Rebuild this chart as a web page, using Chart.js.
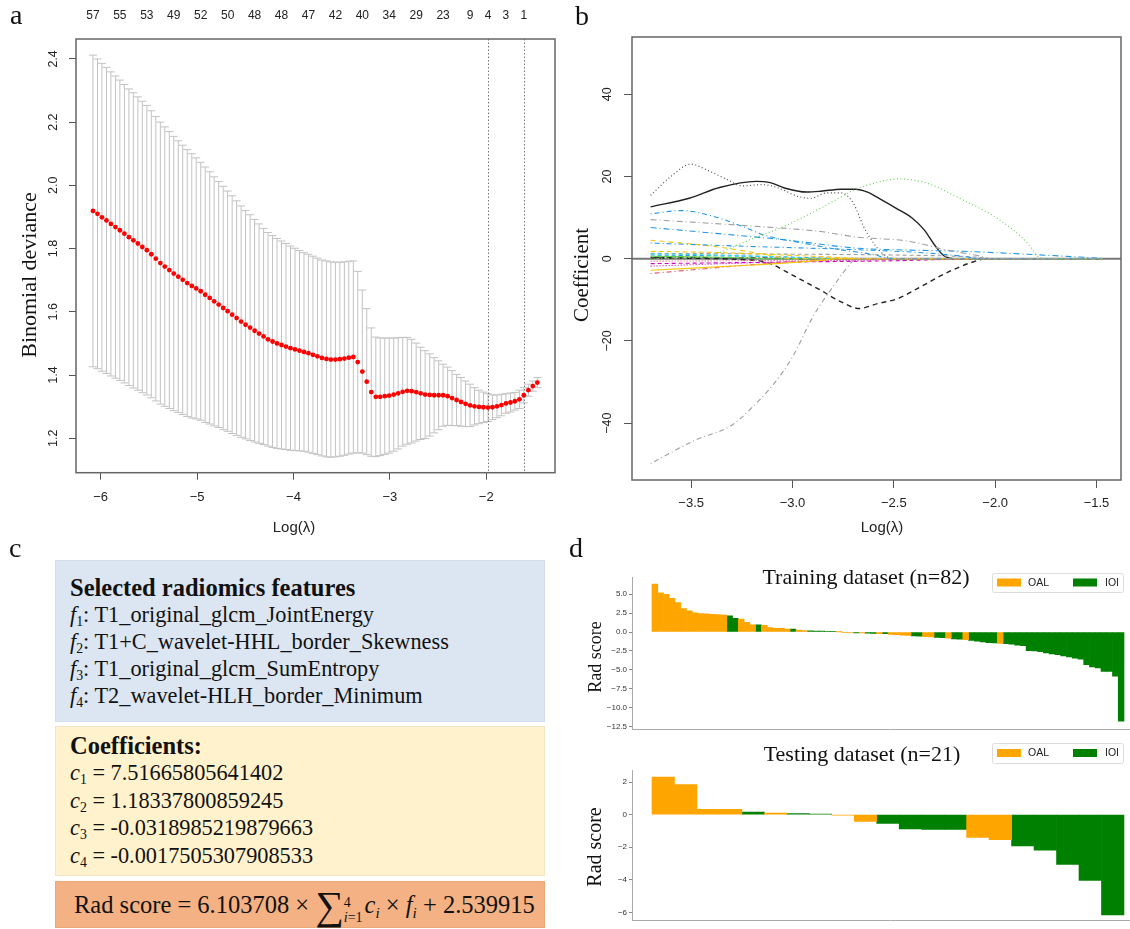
<!DOCTYPE html>
<html>
<head>
<meta charset="utf-8">
<script src="https://cdn.jsdelivr.net/npm/chart.js@4.4.1/dist/chart.umd.min.js"></script>
<style>
html, body { margin: 0; padding: 0; background: #fff; overflow: hidden; }
#page { position: relative; width: 1130px; height: 929px; overflow: hidden; }
canvas { position: absolute; }
.lab { position: absolute; font-family: "Liberation Serif", "Times New Roman", serif; font-size: 28px; line-height: 28px; color: #111; }
.pc { position: absolute; left: 55px; width: 490px; box-sizing: border-box; padding-left: 14px;
      font-family: "Liberation Serif", "Times New Roman", serif; color: #111; white-space: nowrap; }
#pc1 { top: 560px; height: 162px; background: #dce6f2; border: 1px solid #d3dded; padding-top: 12.5px; line-height: 27px; font-size: 22.3px; }
#pc2 { top: 726px; height: 150px; background: #fff2cc; border: 1px solid #f3e6c0; padding-top: 4.5px; line-height: 27.5px; font-size: 22.3px; }
#pc3 { top: 881px; height: 47px; background: #f4b183; border: 1px solid #eaa877; padding-left: 18px; line-height: 45px; font-size: 24.5px; }
.hd { font-weight: bold; font-size: 24.5px; }
sub { font-size: 0.62em; vertical-align: -0.3em; line-height: 0; }
.sig { font-size: 40px; vertical-align: -6px; line-height: 0; }
.lim { display: inline-block; vertical-align: -9px; line-height: 15px; font-size: 14px; text-align: left; margin-right: 2px; }
.lim span { display: block; }
</style>
</head>
<body>
<div id="page">
  <canvas id="cA" width="570" height="545" style="left:0;top:0"></canvas>
  <canvas id="cB" width="564" height="545" style="left:566px;top:0"></canvas>
  <canvas id="cTrain" width="566" height="180" style="left:582px;top:556px"></canvas>
  <canvas id="cTest" width="566" height="192" style="left:582px;top:735px"></canvas>

  <div class="lab" style="left:10px;top:1px">a</div>
  <div class="lab" style="left:575px;top:2px">b</div>
  <div class="lab" style="left:9px;top:534px">c</div>
  <div class="lab" style="left:569px;top:534px">d</div>

  <div class="pc" id="pc1">
    <div class="hd">Selected radiomics features</div>
    <div><i>f</i><sub>1</sub>: T1_original_glcm_JointEnergy</div>
    <div><i>f</i><sub>2</sub>: T1+C_wavelet-HHL_border_Skewness</div>
    <div><i>f</i><sub>3</sub>: T1_original_glcm_SumEntropy</div>
    <div><i>f</i><sub>4</sub>: T2_wavelet-HLH_border_Minimum</div>
  </div>
  <div class="pc" id="pc2">
    <div class="hd">Coefficients:</div>
    <div><i>c</i><sub>1</sub> = 7.51665805641402</div>
    <div><i>c</i><sub>2</sub> = 1.18337800859245</div>
    <div><i>c</i><sub>3</sub> = -0.0318985219879663</div>
    <div><i>c</i><sub>4</sub> = -0.0017505307908533</div>
  </div>
  <div class="pc" id="pc3">Rad score = 6.103708 × <span class="sig">∑</span><span class="lim"><span>4</span><span><i>i</i>=1</span></span><i>c</i><sub><i>i</i></sub> × <i>f</i><sub><i>i</i></sub> + 2.539915</div>
</div>

<script>
// ---------- panel a: cross-validation curve ----------
const logLambda = [-6.080,-6.033,-5.987,-5.940,-5.894,-5.847,-5.801,-5.754,-5.707,-5.661,
  -5.614,-5.568,-5.521,-5.475,-5.428,-5.381,-5.335,-5.288,-5.242,-5.195,
  -5.149,-5.102,-5.055,-5.009,-4.962,-4.916,-4.869,-4.823,-4.776,-4.729,
  -4.683,-4.636,-4.590,-4.543,-4.497,-4.450,-4.403,-4.357,-4.310,-4.264,
  -4.217,-4.171,-4.124,-4.078,-4.031,-3.984,-3.938,-3.891,-3.845,-3.798,
  -3.752,-3.705,-3.658,-3.612,-3.565,-3.519,-3.472,-3.426,-3.379,-3.333,
  -3.286,-3.240,-3.193,-3.146,-3.100,-3.053,-3.007,-2.960,-2.914,-2.867,
  -2.820,-2.774,-2.727,-2.681,-2.634,-2.587,-2.541,-2.494,-2.448,-2.401,
  -2.355,-2.308,-2.262,-2.215,-2.168,-2.122,-2.075,-2.029,-1.982,-1.936,
  -1.889,-1.843,-1.796,-1.749,-1.703,-1.656,-1.610,-1.563,-1.517,-1.470];
const cvMean = [1.919,1.910,1.899,1.889,1.878,1.868,1.858,1.847,1.836,1.826,
  1.816,1.805,1.795,1.782,1.768,1.754,1.743,1.732,1.721,1.711,
  1.701,1.691,1.682,1.674,1.665,1.654,1.644,1.633,1.623,1.612,
  1.602,1.591,1.580,1.569,1.559,1.550,1.540,1.531,1.522,1.513,
  1.506,1.500,1.495,1.490,1.485,1.481,1.477,1.473,1.469,1.464,
  1.459,1.454,1.451,1.449,1.449,1.450,1.452,1.455,1.457,1.441,
  1.411,1.379,1.346,1.331,1.331,1.333,1.335,1.338,1.342,1.347,
  1.350,1.349,1.346,1.342,1.338,1.337,1.336,1.336,1.336,1.333,
  1.327,1.321,1.315,1.309,1.304,1.301,1.299,1.298,1.297,1.298,
  1.301,1.305,1.310,1.313,1.317,1.323,1.336,1.352,1.365,1.376];
const cvSd = [0.493,0.490,0.487,0.484,0.481,0.478,0.475,0.472,0.469,0.467,
  0.464,0.461,0.458,0.454,0.450,0.446,0.442,0.438,0.434,0.430,
  0.426,0.422,0.418,0.413,0.408,0.404,0.399,0.394,0.389,0.385,
  0.380,0.376,0.371,0.366,0.361,0.357,0.352,0.347,0.342,0.338,
  0.335,0.332,0.329,0.326,0.323,0.320,0.317,0.314,0.313,0.312,
  0.311,0.310,0.310,0.309,0.308,0.307,0.306,0.305,0.304,0.287,
  0.258,0.231,0.203,0.189,0.186,0.184,0.182,0.179,0.176,0.172,
  0.169,0.164,0.155,0.146,0.139,0.130,0.119,0.109,0.098,0.092,
  0.087,0.081,0.077,0.072,0.067,0.059,0.053,0.048,0.044,0.039,
  0.036,0.034,0.031,0.030,0.028,0.029,0.024,0.019,0.016,0.016];
const topLambda = [-6.080,-5.801,-5.521,-5.242,-4.962,-4.683,-4.403,-4.124,-3.845,
  -3.565,-3.286,-3.007,-2.727,-2.448,-2.168,-1.982,-1.796,-1.610];
const topNzero = [57,55,53,49,52,50,48,48,47,42,40,34,29,23,9,4,3,1];
const lambdaMarks = [-1.982, -1.610];

// ---------- panel b: coefficient paths ----------
const coefBlackDot = [[-3.70,15.4],[-3.60,20.0],[-3.50,23.0],[-3.42,21.5],[-3.32,19.2],[-3.25,17.7],[-3.15,18.0],[-3.07,17.2],[-2.97,15.1],[-2.91,14.7],[-2.83,16.0],[-2.76,16.0],[-2.70,13.5],[-2.65,7.9],[-2.60,3.8],[-2.55,1.0],[-2.49,0],[-1.47,0]];
const coefBlackSolid = [[-3.70,12.6],[-3.51,14.7],[-3.36,17.3],[-3.18,18.8],[-3.11,18.5],[-3.04,17.2],[-2.93,16.2],[-2.86,16.4],[-2.76,16.9],[-2.69,16.9],[-2.63,16.2],[-2.56,14.3],[-2.49,12.3],[-2.41,9.9],[-2.35,7.0],[-2.30,3.4],[-2.25,0.6],[-2.19,0],[-1.47,0]];
const coefBlackDash = [[-3.70,0.2],[-3.18,-0.4],[-3.11,-1.2],[-3.00,-4.0],[-2.86,-7.7],[-2.76,-10.5],[-2.67,-12.1],[-2.58,-10.9],[-2.48,-9.7],[-2.37,-6.9],[-2.23,-3.2],[-2.11,-0.8],[-2.04,0],[-1.47,0]];
const coefGreyNeg = [[-3.70,-49.8],[-3.48,-44.1],[-3.30,-40.5],[-3.18,-35.2],[-3.09,-30.3],[-3.00,-23.9],[-2.90,-14.2],[-2.79,-6.1],[-2.70,-0.4],[-2.69,0],[-1.47,0]];
const coefGreenDot = [[-3.70,0],[-3.43,0.6],[-3.21,4.6],[-3.04,7.9],[-2.86,12.3],[-2.69,16.8],[-2.58,18.6],[-2.48,19.4],[-2.34,18.4],[-2.16,14.3],[-1.98,9.5],[-1.84,3.8],[-1.79,0.6],[-1.75,0],[-1.47,0]];
const coefGreyUp = [[-3.70,9.5],[-3.22,8.0],[-2.86,6.6],[-2.69,5.3],[-2.42,4.2],[-2.25,2.2],[-2.07,0.6],[-2.02,0],[-1.47,0]];
const coefBlue1 = [[-3.70,10.9],[-3.55,11.7],[-3.39,10.3],[-3.25,7.9],[-3.13,5.6],[-2.95,3.8],[-2.78,2.3],[-2.60,1.0],[-2.51,0],[-1.47,0]];
const coefBlue2 = [[-3.70,7.6],[-3.39,6.2],[-3.04,4.6],[-2.69,2.6],[-2.34,2.0],[-2.16,1.8],[-1.81,1.0],[-1.47,0.1]];
const coefBlue3 = [[-3.70,3.8],[-3.22,3.0],[-2.69,2.2],[-2.34,1.4],[-2.16,0.6],[-2.07,0],[-1.47,0]];
const coefYellowDash = [[-3.70,4.5],[-3.39,3.0],[-3.13,1.0],[-3.00,0],[-1.47,0]];
const coefYellowSolid = [[-3.70,-2.8],[-3.22,-1.6],[-2.86,-0.4],[-2.78,0],[-1.47,0]];
const coefRedDashDot = [[-3.70,-3.6],[-3.13,-1.2],[-2.86,-0.4],[-2.69,0],[-1.47,0]];
const coefMagentaDash = [[-3.70,-1.2],[-3.00,-0.8],[-2.50,-0.5],[-2.04,0],[-1.47,0]];
const coefMagentaDot = [[-3.70,-1.8],[-3.20,-1.0],[-2.80,-0.5],[-2.30,0],[-1.47,0]];
const coefCyanDash = [[-3.70,1.2],[-3.30,0.8],[-3.00,0.3],[-2.85,0],[-1.47,0]];
const coefGreyDash = [[-3.70,1.3],[-3.00,1.1],[-2.50,0.9],[-2.10,0.4],[-2.00,0],[-1.47,0]];
const coefGreenSolid = [[-3.70,0.6],[-3.30,0.3],[-3.10,0],[-1.47,0]];
const coefRedDot = [[-3.70,-0.6],[-3.00,-0.4],[-2.40,-0.2],[-2.10,0],[-1.47,0]];
const coefBlackDashDot = [[-3.70,0.4],[-3.20,0.2],[-2.90,0],[-1.47,0]];
const coefBlueDash = [[-3.70,0.9],[-3.10,0.5],[-2.70,0],[-1.47,0]];
const coefYellowDash2 = [[-3.70,1.8],[-3.30,1.4],[-2.90,0.6],[-2.60,0],[-1.47,0]];

// ---------- panel d: rad scores ----------
const O = 'OAL', I = 'IOI';
const groupNames = [O, I];
const groupColors = ['#ffa500', '#008000'];
const trainScore = [6.35,5.2,5.0,4.45,3.9,3.1,2.8,2.55,2.45,2.4,
  2.35,2.3,2.25,2.15,1.8,1.7,1.3,0.95,0.95,0.9,
  0.6,0.5,0.5,0.4,0.4,0.25,0.2,0.15,0.13,0.12,
  0.1,0.05,0.02,-0.05,-0.08,-0.1,-0.1,-0.15,-0.18,-0.2,
  -0.22,-0.3,-0.35,-0.4,-0.45,-0.5,-0.55,-0.6,-0.65,-0.7,
  -0.75,-0.8,-0.9,-0.95,-1.0,-1.1,-1.2,-1.3,-1.4,-1.45,
  -1.5,-1.55,-1.6,-1.75,-1.8,-2.45,-2.5,-2.6,-2.75,-2.9,
  -3.0,-3.15,-3.3,-3.45,-3.6,-4.3,-4.6,-4.75,-5.2,-5.2,
  -5.85,-11.8];
const trainGroup = [O,O,O,O,O,O,O,O,O,O, O,O,O,I,I,O,O,O,I,O,
  O,O,O,O,I,O,O,I,I,I, I,I,O,O,O,I,O,I,I,O,
  I,O,O,O,O,I,I,O,O,I, I,O,I,I,O,I,I,I,I,I,
  O,I,I,I,I,I,I,I,I,I, I,I,I,I,I,I,I,I,I,I, I,I];
const testScore = [2.3,1.85,0.33,0.33,0.16,0.1,0.06,0.03,-0.02,-0.42,
  -0.54,-0.88,-0.9,-0.9,-1.4,-1.54,-1.92,-2.18,-3.06,-4.04,-6.16];
const testGroup = [O,O,O,O,I,O,I,I,O,O, I,I,I,I,O,O,I,I,I,I, I];

// ---------- helpers ----------
Chart.defaults.font.family = '"Liberation Sans", Arial, sans-serif';
Chart.defaults.color = '#222';
const SERIF = '"Liberation Serif", "Times New Roman", serif';
const SANS = '"Liberation Sans", Arial, sans-serif';
const fmt = (v, d) => v.toFixed(d).replace('-', '\u2212');
const pts = arr => arr.map(p => ({x: p[0], y: p[1]}));

const textPlugin = {
  id: 'texts',
  afterDraw(chart, args, opts) {
    const ctx = chart.ctx;
    (opts.items || []).forEach(t => {
      ctx.save();
      ctx.translate(t.x, t.y);
      if (t.rot) ctx.rotate(t.rot * Math.PI / 180);
      ctx.font = t.font;
      ctx.fillStyle = t.color || '#111';
      ctx.textAlign = 'center';
      ctx.textBaseline = 'middle';
      ctx.fillText(t.text, 0, 0);
      ctx.restore();
    });
  }
};

const framePlugin = {
  id: 'frame',
  afterDatasetsDraw(chart) {
    const {ctx, chartArea: a} = chart;
    ctx.save();
    ctx.strokeStyle = '#666';
    ctx.lineWidth = 1.5;
    ctx.strokeRect(a.left, a.top, a.right - a.left, a.bottom - a.top);
    ctx.restore();
  }
};

const cvPlugin = {
  id: 'cvBars',
  beforeDatasetsDraw(chart) {
    const {ctx, chartArea: a, scales: {x, y}} = chart;
    ctx.save();
    ctx.strokeStyle = '#c2c2c2';
    ctx.lineWidth = 1;
    logLambda.forEach((l, i) => {
      const px = x.getPixelForValue(l);
      const hi = y.getPixelForValue(cvMean[i] + cvSd[i]);
      const lo = y.getPixelForValue(cvMean[i] - cvSd[i]);
      ctx.beginPath();
      ctx.moveTo(px, hi); ctx.lineTo(px, lo);
      ctx.moveTo(px - 4, hi); ctx.lineTo(px + 4, hi);
      ctx.moveTo(px - 4, lo); ctx.lineTo(px + 4, lo);
      ctx.stroke();
    });
    ctx.strokeStyle = '#777';
    ctx.setLineDash([1.5, 2]);
    lambdaMarks.forEach(l => {
      const px = Math.round(x.getPixelForValue(l)) + 0.5;
      ctx.beginPath(); ctx.moveTo(px, a.top); ctx.lineTo(px, a.bottom); ctx.stroke();
    });
    ctx.restore();
  }
};

const zeroLine = {
  id: 'zeroLine',
  beforeDatasetsDraw(chart) {
    const {ctx, chartArea: a, scales: {y}} = chart;
    const py = y.getPixelForValue(0);
    ctx.save();
    ctx.strokeStyle = '#777';
    ctx.lineWidth = 2;
    ctx.beginPath(); ctx.moveTo(a.left, py); ctx.lineTo(a.right, py); ctx.stroke();
    ctx.restore();
  }
};

const boxLegend = {
  id: 'boxLegend',
  afterDraw(chart, args, o) {
    const ctx = chart.ctx;
    ctx.save();
    ctx.strokeStyle = '#dcdcdc';
    ctx.lineWidth = 1;
    ctx.beginPath();
    ctx.roundRect(o.x + 0.5, o.y + 0.5, o.w, o.h, 2);
    ctx.stroke();
    ctx.font = '10.5px ' + SANS;
    ctx.textBaseline = 'middle';
    ctx.textAlign = 'left';
    groupNames.forEach((g, i) => {
      ctx.fillStyle = groupColors[i];
      ctx.fillRect(o.x + 5 + i * 76, o.y + o.h / 2 - 4, 24, 8);
      ctx.fillStyle = '#222';
      ctx.fillText(g, o.x + 36 + i * 77, o.y + o.h / 2 + 0.5);
    });
    ctx.restore();
  }
};

const axisGrid = {drawOnChartArea: false, tickLength: 7, color: '#555', tickColor: '#555'};

// ---------- chart a ----------
new Chart(document.getElementById('cA'), {
  type: 'scatter',
  data: {
    datasets: [{
      data: logLambda.map((l, i) => ({x: l, y: cvMean[i]})),
      pointRadius: 2.4,
      pointBackgroundColor: '#ff0000',
      pointBorderWidth: 0
    }]
  },
  options: {
    responsive: false,
    animation: false,
    events: [],
    layout: {padding: {right: 15}},
    plugins: {
      legend: {display: false},
      tooltip: {enabled: false},
      texts: {items: [
        {text: 'Binomial deviance', x: 30, y: 275, rot: -90, font: '22px ' + SERIF},
        {text: 'Log(\u03bb)', x: 294, y: 528, font: '15px ' + SANS, color: '#222'}
      ]}
    },
    scales: {
      x: {
        type: 'linear', position: 'bottom', min: -6.256, max: -1.287,
        afterFit: s => { s.height = 72.3; },
        ticks: {stepSize: 1, includeBounds: false, maxRotation: 0, padding: 9.5,
          font: {size: 13}, callback: v => fmt(v, 0)},
        grid: axisGrid,
        border: {display: false}
      },
      x2: {
        type: 'linear', position: 'top', min: -6.256, max: -1.287,
        afterBuildTicks: s => { s.ticks = topLambda.map(v => ({value: v})); },
        afterFit: s => { s.height = 39; },
        ticks: {autoSkip: false, maxRotation: 0, padding: 16, font: {size: 12},
          callback: (v, i) => String(topNzero[i])},
        grid: {display: false, drawTicks: false},
        border: {display: false}
      },
      y: {
        min: 1.091, max: 2.463,
        afterFit: s => { s.width = 76; },
        ticks: {stepSize: 0.2, includeBounds: false, minRotation: 90, maxRotation: 90,
          crossAlign: 'center', padding: 7, font: {size: 12.5}, callback: v => fmt(v, 1)},
        grid: axisGrid,
        border: {display: false}
      }
    }
  },
  plugins: [cvPlugin, framePlugin, textPlugin]
});

// ---------- chart b ----------
const pathStyles = [
  [coefGreyNeg, '#9e9e9e', [1, 3, 5, 3]],
  [coefGreenDot, '#61d04f', [1, 2.5]],
  [coefGreyUp, '#9e9e9e', [6, 3, 1, 3]],
  [coefBlue1, '#2297e6', [1, 3, 5, 3]],
  [coefBlue2, '#2297e6', [6, 3, 1, 3]],
  [coefBlue3, '#2297e6', [1, 3, 5, 3]],
  [coefYellowDash, '#f5c710', [5, 4]],
  [coefYellowDash2, '#f5c710', [5, 3]],
  [coefYellowSolid, '#f5c710', []],
  [coefRedDashDot, '#df536b', [1, 3, 5, 3]],
  [coefMagentaDash, '#cd0bbc', [4, 3]],
  [coefMagentaDot, '#cd0bbc', [1, 2]],
  [coefCyanDash, '#28e2e5', [4, 3]],
  [coefGreyDash, '#9e9e9e', [4, 3]],
  [coefGreenSolid, '#61d04f', []],
  [coefRedDot, '#df536b', [1, 2]],
  [coefBlackDashDot, '#000000', [1, 3, 5, 3]],
  [coefBlueDash, '#2297e6', [4, 3]],
  [coefBlackDash, '#222222', [5, 4]],
  [coefBlackDot, '#444444', [1, 2.5]],
  [coefBlackSolid, '#222222', []]
];

new Chart(document.getElementById('cB'), {
  type: 'line',
  data: {
    datasets: pathStyles.map(([p, c, d]) => ({
      data: pts(p),
      borderColor: c,
      borderWidth: c === '#222222' ? 1.4 : 1.1,
      borderDash: d,
      pointRadius: 0,
      fill: false,
      cubicInterpolationMode: 'monotone'
    }))
  },
  options: {
    responsive: false,
    animation: false,
    events: [],
    layout: {padding: {top: 37, right: 9}},
    plugins: {
      legend: {display: false},
      tooltip: {enabled: false},
      texts: {items: [
        {text: 'Coefficient', x: 16, y: 275, rot: -90, font: '21px ' + SERIF},
        {text: 'Log(\u03bb)', x: 316, y: 528, font: '15px ' + SANS, color: '#222'}
      ]}
    },
    scales: {
      x: {
        type: 'linear', min: -3.792, max: -1.379,
        afterFit: s => { s.height = 65; },
        ticks: {stepSize: 0.5, includeBounds: false, maxRotation: 0, padding: 7.5,
          font: {size: 13}, callback: v => fmt(v, 1)},
        grid: {drawOnChartArea: false, tickLength: 8, color: '#555', tickColor: '#555'},
        border: {display: false}
      },
      y: {
        min: -53.8, max: 53.9,
        afterFit: s => { s.width = 66; },
        ticks: {stepSize: 20, includeBounds: false, minRotation: 90, maxRotation: 90,
          crossAlign: 'center', padding: 6, font: {size: 12.5}, callback: v => fmt(v, 0)},
        grid: {drawOnChartArea: false, tickLength: 8, color: '#555', tickColor: '#555'},
        border: {display: false}
      }
    }
  },
  plugins: [zeroLine, framePlugin, textPlugin]
});

// ---------- charts d ----------
function radChart(id, scores, groups, opt) {
  return new Chart(document.getElementById(id), {
    type: 'bar',
    data: {
      datasets: groupNames.map((g, k) => ({
        label: g,
        data: scores.map((v, i) => ({x: i, y: v})).filter((p, i) => groups[i] === g),
        backgroundColor: groupColors[k],
        borderWidth: 0,
        barPercentage: 1,
        categoryPercentage: 1,
        grouped: false
      }))
    },
    options: {
      responsive: false,
      animation: false,
      events: [],
      layout: {padding: {top: opt.padTop}},
      plugins: {
        legend: {display: false},
        tooltip: {enabled: false},
        boxLegend: opt.legend,
        texts: {items: [
          {text: opt.title, x: opt.titleX, y: opt.titleY, font: '22px ' + SERIF},
          {text: 'Rad score', x: 14, y: opt.ylabY, rot: -90, font: opt.ylabSize + 'px ' + SERIF}
        ]}
      },
      scales: {
        x: {
          type: 'linear', offset: false, min: opt.xMin, max: opt.xMax,
          afterFit: s => { s.height = 4; },
          ticks: {display: false},
          grid: {display: false},
          border: {display: true, color: '#aaa', width: 1}
        },
        y: {
          min: opt.yMin, max: opt.yMax, beginAtZero: false,
          afterFit: s => { s.width = 50; },
          ticks: {stepSize: opt.step, includeBounds: false, padding: 2, color: '#333',
            font: {size: 8}, callback: v => fmt(v, opt.dec)},
          grid: {drawOnChartArea: false, tickLength: 3, color: '#888', tickColor: '#888'},
          border: {display: true, color: '#aaa', width: 1}
        }
      }
    },
    plugins: [boxLegend, textPlugin]
  });
}

radChart('cTrain', trainScore, trainGroup, {
  padTop: 21, xMin: -3.97, xMax: 85.67, yMin: -12.85, yMax: 7.28, step: 2.5, dec: 1,
  title: 'Training dataset (n=82)', titleX: 284, titleY: 22, ylabY: 101, ylabSize: 18,
  legend: {x: 410, y: 17, w: 131, h: 19}
});

radChart('cTest', testScore, testGroup, {
  padTop: 35, xMin: -1.39, xMax: 21.57, yMin: -6.48, yMax: 2.74, step: 2, dec: 0,
  title: 'Testing dataset (n=21)', titleX: 280, titleY: 20, ylabY: 112, ylabSize: 20,
  legend: {x: 410, y: 8, w: 131, h: 20}
});
</script>
</body>
</html>
